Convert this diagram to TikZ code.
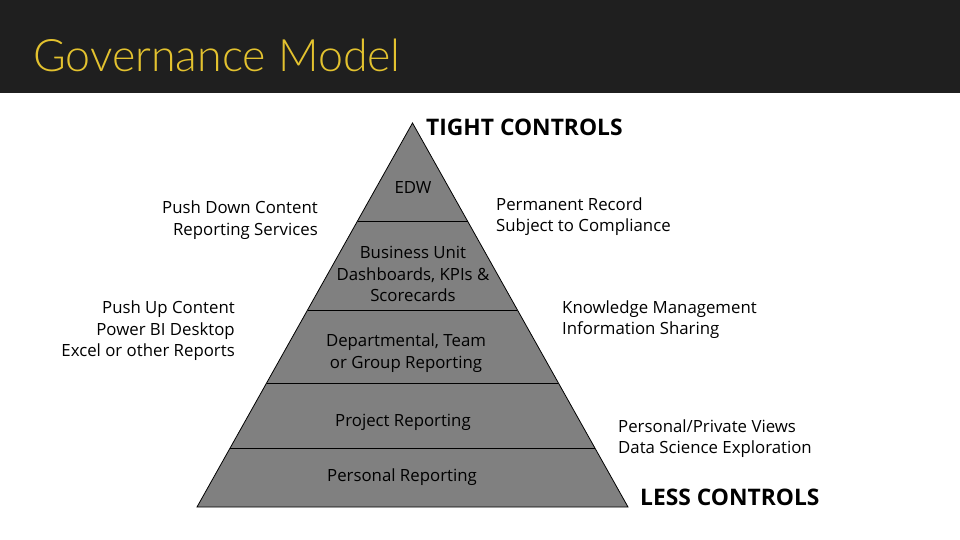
\documentclass[tikz,border=0pt]{standalone}
\usepackage{fontspec}
\setmainfont{Open Sans}
\newfontfamily\titlefont{Lato Light}
\definecolor{band}{HTML}{1F1F1F}
\definecolor{gold}{HTML}{E3C22F}
\definecolor{pyr}{HTML}{808080}
\tikzset{
  body/.style={font=\fontsize{16.8}{21.5}\selectfont, inner sep=0pt, text=black},
  bigcap/.style={font=\fontsize{22.8}{26}\selectfont\bfseries, inner sep=0pt, anchor=west},
  layer/.style={draw=black, line width=0.8pt},
}
\begin{document}
\begin{tikzpicture}[x=1pt,y=-1pt]
\useasboundingbox (0,0) rectangle (960,540);
\fill[band] (0,0) rectangle (960,93);
\node[font=\titlefont\fontsize{44.7}{46}\selectfont, text=gold, anchor=base west, inner sep=0pt] (title) at (33,72) {Governance Model};

% pyramid
\coordinate (apex) at (412.5,123);
\coordinate (bl) at (197,507);
\coordinate (br) at (628,507);
\fill[pyr, draw=black, line width=0.8pt] (apex) -- (br) -- (bl) -- cycle;
\foreach \yy/\nm in {221/a,310/b,383/c,448/d}{
  \pgfmathsetmacro{\dx}{(\yy-123)*0.5612}
  \draw[layer] (412.5-\dx,\yy) coordinate (\nm l) -- (412.5+\dx,\yy) coordinate (\nm r);
}

\node[body] (edw) at (413,188) {EDW};
\node[body, align=center] (bu) at (413,274) {Business Unit\\Dashboards, KPIs \&\\Scorecards};
\node[body, align=center] (dep) at (406,353) {Departmental, Team\\or Group Reporting};
\node[body] (proj) at (403,422) {Project Reporting};
\node[body] (pers) at (402,477) {Personal Reporting};

\node[body, align=right, anchor=east] (pd) at (318,220) {Push Down Content\\Reporting Services};
\node[body, align=right, anchor=east] (pu) at (235,331) {Push Up Content\\Power BI Desktop\\Excel or other Reports};
\node[body, align=left, anchor=west] (perm) at (496,216.5) {Permanent Record\\Subject to Compliance};
\node[body, align=left, anchor=west] (know) at (562,319.5) {Knowledge Management\\Information Sharing};
\node[body, align=left, anchor=west] (priv) at (618,438.5) {Personal/Private Views\\Data Science Exploration};

\node[bigcap] (tight) at (426,127) {TIGHT CONTROLS};
\node[bigcap] (less) at (640,497) {LESS CONTROLS};
\end{tikzpicture}
\end{document}
